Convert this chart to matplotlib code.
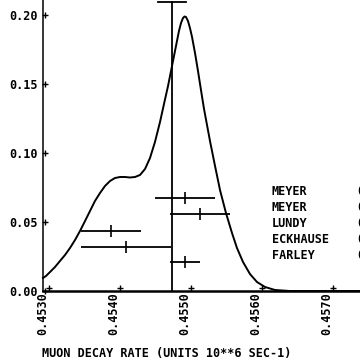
import matplotlib
matplotlib.use("Agg")
import matplotlib.pyplot as plt
from matplotlib.transforms import ScaledTranslation

# ---- data ----
curve_x = [0.453000, 0.453042, 0.453099, 0.453169, 0.453239, 0.453310, 0.453380,
           0.453451, 0.453521, 0.453592, 0.453662, 0.453732, 0.453803, 0.453873,
           0.453944, 0.454014, 0.454085, 0.454155, 0.454225, 0.454296, 0.454366,
           0.454437, 0.454507, 0.454577, 0.454648, 0.454704, 0.454761, 0.454803,
           0.454845, 0.454887, 0.454915, 0.454944, 0.454972, 0.454993, 0.455014,
           0.455042, 0.455070, 0.455099, 0.455141, 0.455183, 0.455225, 0.455268,
           0.455310, 0.455352, 0.455423, 0.455493, 0.455577, 0.455662, 0.455732,
           0.455817, 0.455915, 0.456014, 0.456127, 0.456268, 0.456479, 0.4575]
curve_y = [0.00942, 0.01087, 0.01377, 0.01739, 0.02174, 0.02609, 0.03116,
           0.03696, 0.04348, 0.05072, 0.05797, 0.06522, 0.07101, 0.07609,
           0.07971, 0.08188, 0.08261, 0.08261, 0.08225, 0.08261, 0.08406,
           0.08841, 0.09638, 0.10797, 0.12246, 0.13551, 0.14855, 0.15942,
           0.17029, 0.18116, 0.18841, 0.19420, 0.19783, 0.19891, 0.19855,
           0.19565, 0.19058, 0.18406, 0.17246, 0.15942, 0.14565, 0.13188,
           0.12029, 0.10870, 0.09058, 0.07319, 0.05652, 0.04203, 0.03116,
           0.02101, 0.01232, 0.00652, 0.00290, 0.00072, 0.0, 0.0]

names = ["MEYER", "MEYER", "LUNDY", "ECKHAUSE", "FARLEY"]
values = [0.45500, 0.45521, 0.45396, 0.45417, 0.45500]
errors = [0.00042, 0.00042, 0.00042, 0.00063, 0.00021]
rows = [0.0674, 0.0558, 0.0435, 0.0319, 0.0210]
value_texts = ["0.4550", "0.4552", "0.4540", "0.4542", "0.4550"]

mean_value = 0.45482
mean_error = 0.00020
mean_top = 0.2094

xticks = [0.4530, 0.4540, 0.4550, 0.4560, 0.4570]
xtick_labels = ["0.4530", "0.4540", "0.4550", "0.4560", "0.4570"]
yticks = [0.00, 0.05, 0.10, 0.15, 0.20]
ytick_labels = ["0.00", "0.05", "0.10", "0.15", "0.20"]
xlabel = "MUON DECAY RATE (UNITS 10**6 SEC-1)"

FONT = "DejaVu Sans Mono"
FS = 8.5

fig = plt.figure(figsize=(3.6, 3.62), dpi=100)
ax = fig.add_axes([43/360, 71/362, 317/360, 291/362])
ax.set_xlim(0.4530, 0.4530 + 317/71*0.001)
ax.set_ylim(0, 291/69*0.05)

for s in ("top", "right"):
    ax.spines[s].set_visible(False)
ax.spines["left"].set_linewidth(1.1)
ax.spines["bottom"].set_linewidth(1.8)

# ideogram curve
ax.plot(curve_x, curve_y, color="black", lw=1.4, clip_on=False,
        solid_joinstyle="round")

# measurements
ax.errorbar(values, rows, xerr=errors, fmt="|", color="black", ms=8, mew=1.2,
            elinewidth=1.3, capsize=0)

# weighted mean
ax.plot([mean_value, mean_value], [0, mean_top], color="black", lw=1.3, clip_on=False)
ax.plot([mean_value - mean_error, mean_value + mean_error], [mean_top, mean_top],
        color="black", lw=1.3, clip_on=False)

# ticks
ax.set_xticks(xticks)
ax.set_xticklabels(xtick_labels, rotation=90, fontfamily=FONT, fontweight="bold",
                   fontsize=FS)
ax.set_yticks(yticks)
ax.set_yticklabels(ytick_labels, fontfamily=FONT, fontweight="bold", fontsize=FS)
ax.tick_params(axis="x", length=0, pad=1)
ax.tick_params(axis="y", length=0, pad=4)

# plus-shaped tick marks
offx = ax.transData + ScaledTranslation(0.065, 0.03, fig.dpi_scale_trans)
ax.plot(xticks, [0]*len(xticks), "+", color="black", ms=4.5, mew=1.0,
        transform=offx, clip_on=False)
offy = ax.get_yaxis_transform() + ScaledTranslation(0.02, 0, fig.dpi_scale_trans)
ax.plot([0]*len(yticks), yticks, "+", color="black", ms=4.5, mew=1.0,
        transform=offy, clip_on=False)

# x label
fig.text(42/360, 5/362, xlabel, fontfamily=FONT, fontweight="bold", fontsize=FS,
         ha="left", va="baseline")

# legend of measurements (value column is cut by the right edge, as in the reference)
for i, (n, vt) in enumerate(zip(names, value_texts)):
    yb = 1 - (195 + 16*i)/362
    fig.text(272/360, yb, n, fontfamily=FONT, fontweight="bold", fontsize=FS,
             ha="left", va="baseline")
    fig.text(357/360, yb, vt, fontfamily=FONT, fontweight="bold", fontsize=FS,
             ha="left", va="baseline")

fig.savefig("out.png", dpi=100, facecolor="white")
